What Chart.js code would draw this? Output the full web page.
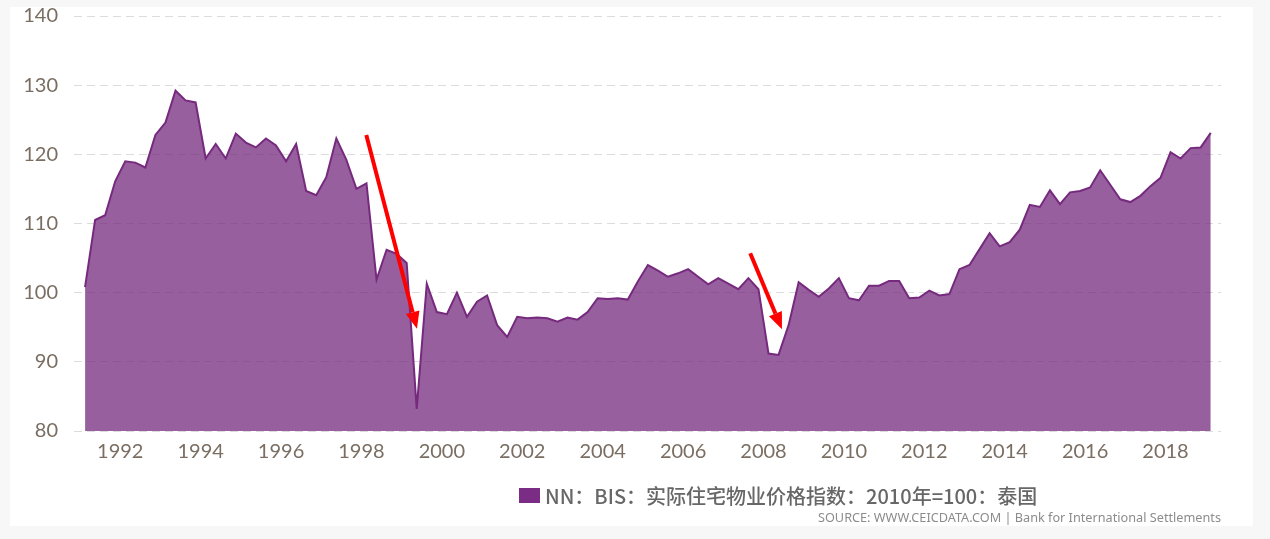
<!DOCTYPE html>
<html>
<head>
<meta charset="utf-8">
<script src="https://cdn.jsdelivr.net/npm/chart.js@4.4.1/dist/chart.umd.min.js"></script>
<style>
  html, body { margin:0; padding:0; width:1270px; height:539px; overflow:hidden; background:#f7f7f7; }
  #panel { position:absolute; left:10px; top:7px; width:1243px; height:519px; background:#ffffff; }
  #chartBox { position:absolute; left:0; top:0; width:1270px; height:539px; }
  #legend { position:absolute; left:519px; top:481px; display:flex; align-items:center; white-space:nowrap;
            font-family:"Noto Sans CJK SC", "Noto Sans", sans-serif; font-size:20px; font-weight:500; color:#676767; }
  #legend .sw { width:21px; height:15px; background:#7b2d85; margin-right:5px; }
  #source { position:absolute; right:49px; top:508px; white-space:nowrap;
            font-family:"Noto Sans", sans-serif; font-size:12.7px; color:#8c8c8c; }
</style>
</head>
<body>
<div id="panel"></div>
<div id="chartBox"><canvas id="c" width="1270" height="539"></canvas></div>
<div id="legend"><span class="sw"></span><span id="legendText"></span></div>
<div id="source"></div>
<script>
// ---- data ----
const seriesName = "NN：BIS：实际住宅物业价格指数：2010年=100：泰国";
const sourceText = "SOURCE: WWW.CEICDATA.COM | Bank for International Settlements";
const startYear = 1991;
const startQuarter = 1;
const values = [
  100.8, 110.5, 111.2, 116.1, 119.0, 118.8, 118.1, 122.8, 124.6, 129.2,
  127.8, 127.5, 119.4, 121.5, 119.4, 123.0, 121.7, 121.0, 122.3, 121.3,
  119.0, 121.5, 114.7, 114.1, 116.7, 122.3, 119.2, 115.0, 115.8, 101.9,
  106.2, 105.6, 104.3, 83.2, 101.3, 97.2, 96.9, 100.0, 96.5, 98.7,
  99.6, 95.3, 93.6, 96.5, 96.3, 96.4, 96.3, 95.8, 96.4, 96.1,
  97.2, 99.2, 99.1, 99.2, 99.0, 101.6, 104.0, 103.2, 102.3, 102.8,
  103.4, 102.3, 101.2, 102.1, 101.3, 100.5, 102.1, 100.5, 91.2, 91.0,
  95.3, 101.5, 100.4, 99.4, 100.6, 102.1, 99.2, 98.9, 101.0, 101.0,
  101.7, 101.7, 99.2, 99.3, 100.3, 99.6, 99.8, 103.4, 104.0, 106.3,
  108.6, 106.7, 107.3, 109.1, 112.7, 112.4, 114.8, 112.8, 114.5, 114.7,
  115.2, 117.7, 115.6, 113.5, 113.1, 114.0, 115.4, 116.6, 120.3, 119.4,
  120.9, 121.0, 123.1
];
const xTickYears = [1992, 1994, 1996, 1998, 2000, 2002, 2004, 2006, 2008, 2010, 2012, 2014, 2016, 2018];
const yTickValues = [80, 90, 100, 110, 120, 130, 140];
// red annotation arrows, in data units [year, index]
const arrows = [
  { from: [1998.12, 122.8], to: [1999.38, 94.8] },
  { from: [2007.67, 105.7], to: [2008.46, 94.7] }
];

// ---- build ----
document.getElementById('legendText').textContent = seriesName;
document.getElementById('source').textContent = sourceText;

const points = values.map((v, i) => ({ x: startYear + (startQuarter - 1 + i) / 4 + 0.125, y: v }));

const tickFont = { family: 'Lato, "Open Sans", sans-serif', size: 20 };
const tickColor = '#7a6e62';

const arrowPlugin = {
  id: 'arrows',
  afterDatasetsDraw(chart) {
    const { ctx, scales: { x, y } } = chart;
    ctx.save();
    arrows.forEach(a => {
      const x1 = x.getPixelForValue(a.from[0]), y1 = y.getPixelForValue(a.from[1]);
      const x2 = x.getPixelForValue(a.to[0]), y2 = y.getPixelForValue(a.to[1]);
      const ang = Math.atan2(y2 - y1, x2 - x1);
      const headLen = 17, headW = 7;
      const bx = x2 - headLen * Math.cos(ang), by = y2 - headLen * Math.sin(ang);
      ctx.strokeStyle = '#ff0000';
      ctx.fillStyle = '#ff0000';
      ctx.lineWidth = 4;
      ctx.beginPath();
      ctx.moveTo(x1, y1);
      ctx.lineTo(bx, by);
      ctx.stroke();
      ctx.beginPath();
      ctx.moveTo(x2, y2);
      ctx.lineTo(bx + headW * Math.sin(ang), by - headW * Math.cos(ang));
      ctx.lineTo(bx - headW * Math.sin(ang), by + headW * Math.cos(ang));
      ctx.closePath();
      ctx.fill();
    });
    ctx.restore();
  }
};

new Chart(document.getElementById('c'), {
  type: 'line',
  data: {
    datasets: [{
      label: seriesName,
      data: points,
      borderColor: '#762a7e',
      borderWidth: 2,
      backgroundColor: 'rgba(118,42,126,0.75)',
      fill: 'start',
      pointRadius: 0,
      tension: 0
    }]
  },
  options: {
    responsive: false,
    animation: false,
    layout: { padding: { left: 0, top: 16, right: 49, bottom: 0 } },
    plugins: { legend: { display: false }, tooltip: { enabled: false } },
    scales: {
      x: {
        type: 'linear',
        min: 1990.85,
        max: 2019.38,
        grid: { display: false, drawTicks: false },
        border: { display: false },
        afterBuildTicks: s => { s.ticks = xTickYears.map(v => ({ value: v })); },
        afterFit: s => { s.height = 108; s.paddingLeft = 0; s.paddingRight = 0; },
        ticks: {
          autoSkip: false, maxRotation: 0, padding: 9,
          font: tickFont, color: tickColor,
          callback: v => String(v)
        }
      },
      y: {
        min: 80,
        max: 140,
        grid: { color: '#dcdcdc', lineWidth: 1, drawTicks: false },
        border: { display: false, dash: [8, 5] },
        afterBuildTicks: s => { s.ticks = yTickValues.map(v => ({ value: v })); },
        afterFit: s => { s.width = 74; s.paddingTop = 0; s.paddingBottom = 0; },
        ticks: { padding: 16, font: tickFont, color: tickColor }
      }
    }
  },
  plugins: [arrowPlugin]
});
</script>
</body>
</html>
